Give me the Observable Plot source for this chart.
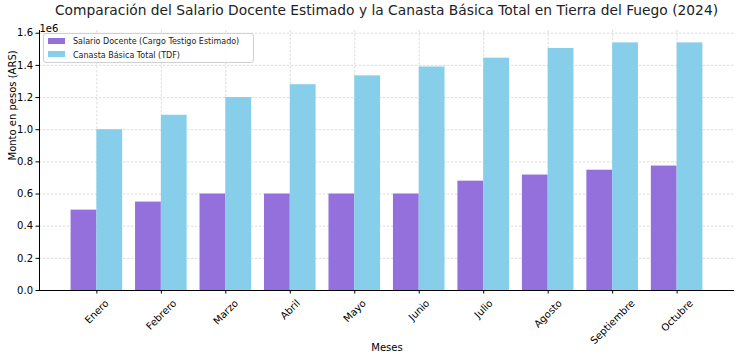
<!DOCTYPE html>
<html><head><meta charset="utf-8">
<script src="https://cdn.jsdelivr.net/npm/d3@7"></script>
<script src="https://cdn.jsdelivr.net/npm/@observablehq/plot@0.6"></script>
<style>
body{margin:0;background:#fff;font-family:"DejaVu Sans",sans-serif;}
#wrap{position:relative;width:740px;height:360px;overflow:hidden;}
#title{position:absolute;left:39px;top:0;width:695px;text-align:center;font-size:13.8px;line-height:20px;color:#222;white-space:nowrap;}
#chart{position:absolute;left:0;top:18px;}
#legend{position:absolute;left:43px;top:33px;width:209px;height:28px;border:1px solid #d0d0d0;border-radius:3px;background:rgba(255,255,255,0.85);font-size:8px;color:#222;}
.row{position:absolute;left:4px;height:12px;line-height:12px;white-space:nowrap;}
.sw{display:inline-block;width:17px;height:6px;vertical-align:middle;margin-right:8px;position:relative;top:-1px;}
</style></head>
<body>
<div id="wrap">
  <div id="title"></div>
  <div id="chart"></div>
  <div id="legend"></div>
</div>
<script>
const titulo = "Comparación del Salario Docente Estimado y la Canasta Básica Total en Tierra del Fuego (2024)";
const meses = ["Enero","Febrero","Marzo","Abril","Mayo","Junio","Julio","Agosto","Septiembre","Octubre"];
const salario = [500000, 550000, 600000, 600000, 600000, 600000, 680000, 718000, 748000, 774000];
const canasta = [1000000, 1090000, 1200000, 1280000, 1335000, 1390000, 1445000, 1505000, 1540000, 1540000];
const yTicks = [0, 200000, 400000, 600000, 800000, 1000000, 1200000, 1400000, 1600000];
const series = ["Salario Docente (Cargo Testigo Estimado)", "Canasta Básica Total (TDF)"];
const colores = ["#9370DB", "#87CEEB"];

const rows = meses.map((m, i) => ({i, mes: m, salario: salario[i], canasta: canasta[i]}));
const idx = rows.map(d => d.i);
const n = meses.length;

document.getElementById("title").textContent = titulo;

const grid = {stroke: "#b0b0b0", strokeOpacity: 0.55, strokeWidth: 0.8, strokeDasharray: "2.5,1.5"};

const chart = Plot.plot({
  width: 740, height: 342,
  marginTop: 12, marginLeft: 39, marginRight: 6, marginBottom: 70,
  style: {fontFamily: "DejaVu Sans, sans-serif", fontSize: "10px", color: "#000", background: "#fff"},
  x: {type: "linear", domain: [-0.89, n - 1 + 0.89], ticks: idx, tickFormat: () => "", tickSize: 3.5, label: null},
  y: {domain: [0, 1617000], ticks: yTicks, tickFormat: d => (d / 1e6).toFixed(1), tickSize: 3.5, tickPadding: 3, label: null},
  marks: [
    Plot.ruleY(yTicks, grid),
    Plot.ruleX(idx, grid),
    Plot.rectY(rows, {x1: d => d.i - 0.4, x2: d => d.i, y: "salario", fill: colores[0]}),
    Plot.rectY(rows, {x1: d => d.i, x2: d => d.i + 0.4, y: "canasta", fill: colores[1]}),
    Plot.ruleX([-0.89], {stroke: "#000", strokeWidth: 1}),
    Plot.ruleY([0], {stroke: "#000", strokeWidth: 1}),
    Plot.text(rows, {x: "i", frameAnchor: "bottom", text: "mes", rotate: -45, textAnchor: "middle", lineAnchor: "middle", fontSize: 10, fill: "#000", ariaLabel: () => "month-label"}),
    Plot.text(["1e6"], {frameAnchor: "top-left", textAnchor: "start", dy: -6, fontSize: 10, fill: "#000"}),
    Plot.text(["Monto en pesos (ARS)"], {frameAnchor: "left", rotate: -90, dx: -27, fontSize: 10, fill: "#000"}),
    Plot.text(["Meses"], {frameAnchor: "bottom", dy: 60, fontSize: 10, fill: "#000"})
  ]
});
document.getElementById("chart").appendChild(chart);

// matplotlib-like centred rotated tick labels
const s = Math.SQRT1_2;
chart.querySelectorAll('text[aria-label="month-label"]').forEach(t => {
  const w = t.getComputedTextLength();
  const h = 11.5;
  const D = 7 + (w + h) * s / 2;
  const tr = t.getAttribute("transform") || "";
  t.setAttribute("transform", `translate(0,${D}) ` + tr);
});

const leg = document.getElementById("legend");
series.forEach((name, k) => {
  const r = document.createElement("div");
  r.className = "row";
  r.style.top = (2 + k * 13.5) + "px";
  r.innerHTML = `<span class="sw" style="background:${colores[k]}"></span>${name}`;
  leg.appendChild(r);
});
</script>
</body></html>
